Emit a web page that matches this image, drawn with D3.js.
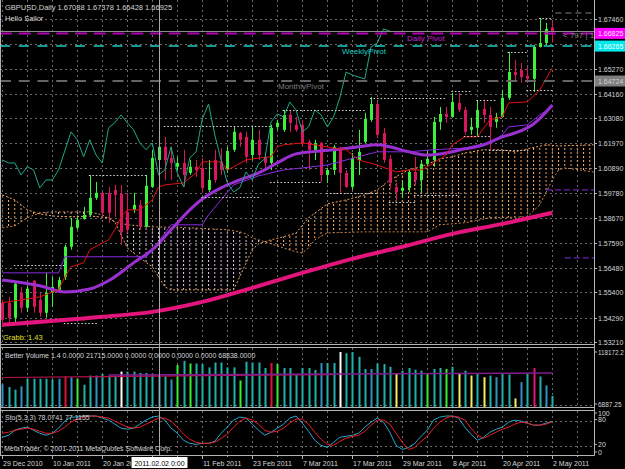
<!DOCTYPE html>
<html>
<head>
<meta charset="utf-8">
<title>GBPUSD,Daily</title>
<script src="https://cdn.jsdelivr.net/npm/d3@7/dist/d3.min.js"></script>
<style>
    body { margin: 0; background: #000; }
    svg { display: block; font-family: "Liberation Sans", Arial, sans-serif; }
</style>
</head>
<body>
<svg width="625" height="469"></svg>
<script>
// GBPUSD daily bars, 29 Dec 2010 .. 2 May 2011
var opens = [1.5494, 1.5494, 1.5428, 1.5538, 1.5472, 1.5591, 1.5507, 1.5450, 1.5538, 1.5551,
    1.5608, 1.5741, 1.5825, 1.5864, 1.5882, 1.5957, 1.5979, 1.5979, 1.5992, 1.5974,
    1.5895, 1.5904, 1.5926, 1.5829, 1.6005, 1.6124, 1.6182, 1.6133, 1.6094, 1.6111,
    1.6067, 1.6094, 1.6089, 1.5992, 1.6124, 1.6116, 1.6080, 1.6169, 1.6243, 1.6226,
    1.6146, 1.6213, 1.6138, 1.6111, 1.6270, 1.6257, 1.6323, 1.6279, 1.6279, 1.6204,
    1.6169, 1.6199, 1.6058, 1.6080, 1.6177, 1.6067, 1.6005, 1.6124, 1.6204, 1.6301,
    1.6371, 1.6243, 1.6129, 1.6005, 1.5988, 1.6001, 1.6071, 1.6036, 1.6107, 1.6124,
    1.6292, 1.6327, 1.6314, 1.6376, 1.6345, 1.6257, 1.6266, 1.6349, 1.6323, 1.6292,
    1.6314, 1.6398, 1.6512, 1.6521, 1.6495, 1.6482, 1.6623, 1.6640, 1.67088];
var highs = [1.5507, 1.5520, 1.5586, 1.5564, 1.5569, 1.5595, 1.5538, 1.5626, 1.5608, 1.5608,
    1.5750, 1.5869, 1.5873, 1.5917, 1.6058, 1.6027, 1.5983, 1.6005, 1.6014, 1.6014,
    1.5979, 1.5979, 1.5948, 1.6058, 1.6169, 1.6270, 1.6226, 1.6182, 1.6138, 1.6169,
    1.6124, 1.6124, 1.6133, 1.6124, 1.6169, 1.6177, 1.6182, 1.6270, 1.6248, 1.6248,
    1.6270, 1.6257, 1.6155, 1.6279, 1.6301, 1.6345, 1.6345, 1.6314, 1.6301, 1.6213,
    1.6213, 1.6204, 1.6089, 1.6191, 1.6182, 1.6080, 1.6155, 1.6257, 1.6332, 1.6402,
    1.6380, 1.6266, 1.6146, 1.6023, 1.6027, 1.6080, 1.6138, 1.6124, 1.6169, 1.6314,
    1.6358, 1.6358, 1.6420, 1.6420, 1.6358, 1.6310, 1.6389, 1.6389, 1.6358, 1.6332,
    1.6433, 1.6601, 1.6565, 1.6552, 1.6535, 1.6632, 1.6751, 1.6729, 1.67378];
var lows = [1.5406, 1.5406, 1.5406, 1.5450, 1.5454, 1.5450, 1.5432, 1.5428, 1.5476, 1.5538,
    1.5595, 1.5728, 1.5816, 1.5860, 1.5873, 1.5948, 1.5873, 1.5847, 1.5873, 1.5750,
    1.5802, 1.5891, 1.5816, 1.5825, 1.6001, 1.6111, 1.6036, 1.6036, 1.6080, 1.6005,
    1.6058, 1.6049, 1.5979, 1.5983, 1.6023, 1.6058, 1.6067, 1.6160, 1.6182, 1.6111,
    1.6124, 1.6124, 1.6080, 1.6080, 1.6257, 1.6248, 1.6248, 1.6248, 1.6182, 1.6080,
    1.6124, 1.6027, 1.6023, 1.6058, 1.5979, 1.6001, 1.5992, 1.6058, 1.6199, 1.6292,
    1.6221, 1.6111, 1.6001, 1.5948, 1.5957, 1.5983, 1.6014, 1.5979, 1.6094, 1.6094,
    1.6257, 1.6288, 1.6310, 1.6336, 1.6235, 1.6235, 1.6226, 1.6288, 1.6169, 1.6266,
    1.6310, 1.6389, 1.6468, 1.6464, 1.6464, 1.6424, 1.6620, 1.6632, 1.66428];
var closes = [1.5419, 1.5428, 1.5578, 1.5472, 1.5556, 1.5476, 1.5450, 1.5538, 1.5564, 1.5595,
    1.5741, 1.5829, 1.5860, 1.5882, 1.5957, 1.5979, 1.5891, 1.5891, 1.5970, 1.5807,
    1.5816, 1.5926, 1.5829, 1.6010, 1.6133, 1.6182, 1.6124, 1.6111, 1.6111, 1.6058,
    1.6094, 1.6080, 1.6001, 1.6036, 1.6036, 1.6080, 1.6164, 1.6248, 1.6213, 1.6138,
    1.6213, 1.6146, 1.6111, 1.6266, 1.6288, 1.6323, 1.6288, 1.6257, 1.6199, 1.6169,
    1.6199, 1.6058, 1.6080, 1.6182, 1.6067, 1.6005, 1.6133, 1.6160, 1.6305, 1.6371,
    1.6235, 1.6124, 1.6023, 1.5983, 1.6001, 1.6071, 1.6036, 1.6107, 1.6129, 1.6292,
    1.6327, 1.6314, 1.6380, 1.6345, 1.6248, 1.6270, 1.6345, 1.6323, 1.6270, 1.6314,
    1.6398, 1.6512, 1.6499, 1.6490, 1.6482, 1.6623, 1.6640, 1.6702, 1.66925];

// time axis (the label for 1 Feb sits under the crosshair date box)
var dateLabels = ["29 Dec 2010", "10 Jan 2011", "20 Jan 2011", "11 Feb 2011", "23 Feb 2011",
    "7 Mar 2011", "17 Mar 2011", "29 Mar 2011", "8 Apr 2011", "20 Apr 2011", "2 May 2011"];
var dateLabelBars = [0, 8, 16, 32, 40, 48, 56, 64, 72, 80, 88];
var crossBar = 25, crossLabel = "2011.02.02 0:00";

// price scale
var priceTicks = [1.6746, 1.6527, 1.6416, 1.6308, 1.6197, 1.6089, 1.5978, 1.5867, 1.5759, 1.5648, 1.5540, 1.5429, 1.5321];

// pivots
var pivotNames = ["Daily Pivot", "WeeklyPivot", "MonthlyPivot"];
var pivotLevels = [1.66825, 1.66265, 1.64724];

// moving averages, sampled along the curves
var maSlowBars = [0, 16, 24, 32, 40, 48, 56, 64, 72, 80, 88];
var maSlow = [1.5397, 1.5432, 1.5454, 1.5498, 1.5560, 1.5626, 1.5688, 1.5741, 1.5798, 1.5842, 1.5891];
var maFastBars = [0, 6, 10, 14, 17, 21, 24, 27, 30, 32, 35, 38, 41, 44, 47, 53, 57, 60, 62, 65, 68, 71, 74, 77, 80, 82, 85, 87, 88];
var maFast = [1.5595, 1.5569, 1.5542, 1.5555, 1.5591, 1.5670, 1.5728, 1.5816, 1.5904, 1.5952, 1.6001, 1.6036, 1.6067, 1.6111,
    1.6151, 1.6169, 1.6182, 1.6191, 1.6182, 1.6160, 1.6146, 1.6155, 1.6173, 1.6191, 1.6226, 1.6243, 1.6283, 1.6336, 1.6367];

// ichimoku lines
var tenkanBars = [0, 3, 6, 9, 10, 11, 13, 14, 17, 18, 19, 20, 22, 24, 25, 26, 29, 31, 32, 35, 36, 37, 39, 41, 43, 44, 45, 48,
    50, 53, 55, 57, 60, 63, 65, 67, 69, 71, 72, 74, 76, 78, 80, 81, 84, 86, 88];
var tenkan = [1.5494, 1.5507, 1.5520, 1.5551, 1.5608, 1.5653, 1.5670, 1.5728, 1.5772, 1.5816, 1.5873, 1.5904, 1.5904, 1.5948,
    1.6005, 1.6014, 1.6023, 1.6067, 1.6116, 1.6116, 1.6080, 1.6094, 1.6124, 1.6133, 1.6138, 1.6182, 1.6191, 1.6199, 1.6191,
    1.6177, 1.6169, 1.6124, 1.6102, 1.6071, 1.6080, 1.6080, 1.6111, 1.6146, 1.6191, 1.6226, 1.6226, 1.6301, 1.6314, 1.6376,
    1.6380, 1.6433, 1.6530];
var kijunBars = [0, 9, 10, 23, 24, 27, 32, 33, 35, 37, 41, 45, 48, 52, 55, 60, 65, 69, 74, 78, 80, 81, 84, 86, 88];
var kijun = [1.5626, 1.5626, 1.5697, 1.5697, 1.5728, 1.5838, 1.5838, 1.5882, 1.5948, 1.6014, 1.6054, 1.6080, 1.6089, 1.6102,
    1.6124, 1.6160, 1.6160, 1.6169, 1.6177, 1.6199, 1.6235, 1.6270, 1.6279, 1.6323, 1.6358];
var spanABars = [0, 2, 4, 6, 8, 11, 14, 17, 18, 19, 20, 22, 24, 25, 26, 27, 30, 34, 37, 40, 41, 43, 45, 47, 49, 52, 55, 58,
    60, 62, 65, 67, 70, 72, 74, 77, 80, 82, 84, 87, 89, 94.6];
var spanA = [1.5970, 1.5948, 1.5904, 1.5886, 1.5877, 1.5873, 1.5877, 1.5869, 1.5851, 1.5794, 1.5736, 1.5692, 1.5653, 1.5608,
    1.5564, 1.5551, 1.5551, 1.5551, 1.5551, 1.5728, 1.5754, 1.5772, 1.5785, 1.5802, 1.5869, 1.5930, 1.5948, 1.5970, 1.5992,
    1.6036, 1.6080, 1.6094, 1.6129, 1.6138, 1.6155, 1.6169, 1.6169, 1.6160, 1.6173, 1.6191, 1.6186, 1.6191];
var spanBBars = [0, 2, 4, 6, 8, 11, 14, 16, 18, 20, 24, 30, 36, 38, 39, 40, 41, 43, 45, 47, 48, 49, 50, 52, 58, 68, 70, 74,
    78, 84, 86, 88, 89, 90, 94.6];
var spanB = [1.5825, 1.5833, 1.5869, 1.5891, 1.5895, 1.5895, 1.5895, 1.5882, 1.5851, 1.5838, 1.5829, 1.5825, 1.5816, 1.5807,
    1.5798, 1.5780, 1.5772, 1.5754, 1.5736, 1.5719, 1.5714, 1.5736, 1.5772, 1.5802, 1.5807, 1.5807, 1.5838, 1.5847, 1.5869,
    1.5873, 1.5926, 1.6036, 1.6080, 1.6089, 1.6071];
var chikouShift = 26;

// white dotted fractal levels: [from bar, to bar, price]
var fractalLevels = [[2, 10, 1.5661], [10, 15, 1.5406], [14, 23, 1.6058], [26, 43, 1.6274], [32, 41, 1.5961],
    [45, 58, 1.6345], [43, 51, 1.6027], [52, 60, 1.5979], [59, 71, 1.6398], [62, 66, 1.5939], [66, 73, 1.5970],
    [72, 75, 1.6429], [74, 78, 1.6230], [76, 79, 1.6389], [78, 84, 1.6169], [81, 84, 1.6601], [84, 88, 1.6433],
    [86, 88, 1.6751]];
var rightStubs = [[87, 95, 1.5992], [90, 95, 1.5692]];
var upperStub = [88.5, 95, 1.6773];

// Better Volume 1.4
var volumes = [50300, 45200, 40300, 46500, 61000, 61000, 61000, 61000, 59700, 61000,
    65400, 64000, 61000, 49700, 67200, 67200, 70500, 67200, 65400, 74800,
    74800, 74800, 72300, 72300, 70500, 68600, 65900, 59700, 87400, 95500,
    90400, 90400, 89300, 82900, 92300, 92300, 82900, 82900, 57800, 93700,
    92300, 92300, 81800, 91200, 89300, 81800, 81800, 68600, 81800, 81800,
    78000, 91200, 91200, 91200, 112500, 110100, 112500, 103100, 79900, 79900,
    90400, 89300, 84200, 70500, 76700, 81800, 78600, 76700, 70500, 79900,
    81800, 79900, 84200, 70500, 76700, 67200, 70500, 64000, 67200, 64000,
    70500, 69100, 23300, 54600, 70500, 81800, 65400, 48400, 28200];
// t/b normal, g churn, r climax high, w climax low, y low volume, m climax churn
var volClass = ("bttbtttttb" + "rbgttbtttw" + "tttttbtbgt" + "gtttttttgt" + "tttrgttttt" +
    "tbttwttttb" + "tttyttttgt" + "tgtytytytb" + "ttybtmtbt").split("");
var volMaBars = [0, 16, 53];
var volMa = [63470, 65350, 69130];
var volMa2Bars = [17, 53, 88];
var volMa2 = [68180, 70070, 71950];
var volScaleLabels = ["118172.2", "6887.25"];

// Stochastic (5,3,3)
var stochMain = [41.2, 45.9, 57.6, 62.4, 64.7, 57.6, 50.6, 45.9, 50.6, 62.4,
    78.8, 88.2, 88.2, 90.6, 90.6, 90.6, 85.9, 81.2, 71.8, 62.4,
    60.0, 62.4, 71.8, 81.2, 88.2, 90.6, 81.2, 62.4, 50.6, 34.1,
    27.1, 24.7, 27.1, 27.1, 31.8, 50.6, 64.7, 81.2, 88.2, 85.9,
    71.8, 57.6, 45.9, 52.9, 62.4, 71.8, 85.9, 90.6, 74.1, 55.3,
    34.1, 22.4, 17.6, 29.4, 41.2, 43.5, 45.9, 50.6, 64.7, 76.5,
    85.9, 76.5, 52.9, 22.4, 12.9, 17.6, 27.1, 43.5, 57.6, 81.2,
    88.2, 90.6, 90.6, 85.9, 64.7, 48.2, 34.1, 41.2, 52.9, 60.0,
    64.7, 76.5, 81.2, 78.8, 74.1, 69.4, 69.4, 74.1, 78.1];
var stochSignal = [50.6, 52.9, 57.6, 60.0, 62.4, 60.0, 55.3, 50.6, 50.6, 55.3,
    64.7, 76.5, 83.5, 88.2, 90.6, 90.6, 88.2, 85.9, 78.8, 71.8,
    64.7, 62.4, 64.7, 71.8, 78.8, 85.9, 85.9, 78.8, 64.7, 48.2,
    36.5, 29.4, 27.1, 27.1, 29.4, 38.8, 48.2, 64.7, 78.8, 85.9,
    81.2, 71.8, 57.6, 52.9, 55.3, 62.4, 74.1, 83.5, 83.5, 71.8,
    52.9, 36.5, 24.7, 22.4, 31.8, 38.8, 43.5, 45.9, 55.3, 69.4,
    81.2, 81.2, 71.8, 50.6, 29.4, 12.9, 17.6, 31.8, 43.5, 62.4,
    76.5, 85.9, 90.6, 88.2, 81.2, 62.4, 45.9, 38.8, 45.9, 52.9,
    60.0, 64.7, 71.8, 76.5, 74.1, 69.4, 69.4, 71.8, 77.1];
var stochTitle = "Sto(5,3,3) 78.0741 77.1155";

var colors = {
    bull: "#3cf03c", bear: "#d8175f", grid: "#6a6a6a", frame: "#b4b4b4", text: "#d6d6d6",
    maSlow: "#e3157c", maFast: "#9b30d0", tenkan: "#e01010", kijun: "#8a2be2", chikou: "#20a888",
    spanA: "#f4a460", spanB: "#d8bfd8", daily: "#b000b4", weekly: "#1ecbc0", monthly: "#646464",
    vol: { t: "#20b2aa", b: "#2f93c4", g: "#33ee33", r: "#dc143c", w: "#ffffff", y: "#f2ec5a", m: "#e0147a" }
};

var svg = d3.select("svg"),
    width = +svg.attr("width"),
    height = +svg.attr("height");

var axisX = 594,
    mainBottom = 344,
    volTop = 348, volBottom = 407,
    stoTop = 411, stoBottom = 455;

var x = d3.scaleLinear().domain([0, 88]).range([2.3, 552.3]);
var yMain = d3.scaleLinear().domain([1.5321, 1.6746]).range([342, 19]);
var yVol = d3.scaleLinear().domain([6887.25, 118172.2]).range([volBottom, 349]);
var ySto = d3.scaleLinear().domain([0, 100]).range([stoBottom, 412]);

svg.append("rect").attr("width", width).attr("height", height).attr("fill", "#000");
var defs = svg.append("defs");

function add_clip(id, x0, y0, w, h) {
    defs.append("clipPath").attr("id", id)
        .append("rect").attr("x", x0).attr("y", y0).attr("width", w).attr("height", h);
}

function add_hatch(id, color) {
    var p = defs.append("pattern").attr("id", id)
        .attr("patternUnits", "userSpaceOnUse")
        .attr("x", 1.8).attr("y", 0)
        .attr("width", 6.25).attr("height", 4);
    p.append("rect").attr("width", 1).attr("height", 2).attr("fill", color);
}

function draw_grid(g, top, bottom, levels) {
    var xs = d3.range(0, 96, 4).map(function (b) { return Math.round(x(b)) + 0.5; });
    g.append("g").selectAll("line").data(xs).enter().append("line")
        .attr("x1", function (d) { return d; }).attr("x2", function (d) { return d; })
        .attr("y1", top).attr("y2", bottom)
        .attr("stroke", colors.grid).attr("stroke-dasharray", "2,3");
    g.append("g").selectAll("line").data(levels).enter().append("line")
        .attr("x1", 0).attr("x2", axisX)
        .attr("y1", function (d) { return Math.round(d) + 0.5; })
        .attr("y2", function (d) { return Math.round(d) + 0.5; })
        .attr("stroke", colors.grid).attr("stroke-dasharray", "2,3");
}

function pts(bars, values, yscale) {
    return values.map(function (v, i) { return [x(bars[i]), yscale(v)]; });
}

function draw_cloud(g) {
    var a = pts(spanABars, spanA, yMain),
        b = pts(spanBBars, spanB, yMain),
        line = d3.line();
    var x0 = a[0][0], x1 = a[a.length - 1][0];
    defs.append("clipPath").attr("id", "belowA").append("path")
        .attr("d", line(a.concat([[x1, mainBottom], [x0, mainBottom]])) + "Z");
    defs.append("clipPath").attr("id", "aboveA").append("path")
        .attr("d", line(a.concat([[x1, 0], [x0, 0]])) + "Z");
    var band = line(a.concat(b.slice().reverse())) + "Z";
    g.append("path").attr("d", band).attr("fill", "url(#hatchUp)").attr("clip-path", "url(#belowA)");
    g.append("path").attr("d", band).attr("fill", "url(#hatchDown)").attr("clip-path", "url(#aboveA)");
    g.append("path").attr("d", line(a)).attr("fill", "none")
        .attr("stroke", colors.spanA).attr("stroke-dasharray", "2,2");
    g.append("path").attr("d", line(b)).attr("fill", "none")
        .attr("stroke", colors.spanA).attr("stroke-opacity", 0.8).attr("stroke-dasharray", "2,2");
}

function draw_candles(g) {
    var bars = opens.map(function (o, i) {
        return { i: i, o: o, h: highs[i], l: lows[i], c: closes[i] };
    });
    var c = g.append("g").selectAll("g").data(bars).enter().append("g")
        .attr("fill", function (d) { return d.c >= d.o ? colors.bull : colors.bear; })
        .attr("stroke", function (d) { return d.c >= d.o ? colors.bull : colors.bear; });
    c.append("line")
        .attr("x1", function (d) { return Math.round(x(d.i)) + 0.5; })
        .attr("x2", function (d) { return Math.round(x(d.i)) + 0.5; })
        .attr("y1", function (d) { return yMain(d.h); })
        .attr("y2", function (d) { return yMain(d.l); });
    c.append("rect")
        .attr("stroke", "none")
        .attr("x", function (d) { return Math.round(x(d.i)) - 1; })
        .attr("width", 3)
        .attr("y", function (d) { return yMain(Math.max(d.o, d.c)); })
        .attr("height", function (d) { return Math.max(1, Math.abs(yMain(d.o) - yMain(d.c))); });
}

function draw_lines(g) {
    var line = d3.line();
    var smooth = d3.line().curve(d3.curveMonotoneX);
    g.append("path").attr("d", smooth(pts(maSlowBars, maSlow, yMain)))
        .attr("fill", "none").attr("stroke", colors.maSlow).attr("stroke-width", 4);
    g.append("path").attr("d", smooth(pts(maFastBars, maFast, yMain)))
        .attr("fill", "none").attr("stroke", colors.maFast).attr("stroke-width", 3);
    g.append("path").attr("d", line(pts(kijunBars, kijun, yMain)))
        .attr("fill", "none").attr("stroke", colors.kijun);
    g.append("path").attr("d", line(pts(tenkanBars, tenkan, yMain)))
        .attr("fill", "none").attr("stroke", colors.tenkan);
    // chikou span: the closes plotted 26 bars back
    var chikou = closes.slice(chikouShift);
    g.append("path").attr("d", line(pts(d3.range(chikou.length), chikou, yMain)))
        .attr("fill", "none").attr("stroke", colors.chikou);
}

function draw_levels(g) {
    g.append("g").selectAll("line").data(fractalLevels).enter().append("line")
        .attr("x1", function (d) { return x(d[0]) - 1; })
        .attr("x2", function (d) { return x(d[1]) + 1; })
        .attr("y1", function (d) { return Math.round(yMain(d[2])) + 0.5; })
        .attr("y2", function (d) { return Math.round(yMain(d[2])) + 0.5; })
        .attr("stroke", "#d8d8d8").attr("stroke-width", 1).attr("stroke-dasharray", "1.5,2");
    g.append("g").selectAll("line").data(rightStubs).enter().append("line")
        .attr("x1", function (d) { return x(d[0]); }).attr("x2", function (d) { return x(d[1]); })
        .attr("y1", function (d) { return yMain(d[2]); }).attr("y2", function (d) { return yMain(d[2]); })
        .attr("stroke", colors.kijun).attr("stroke-dasharray", "6,3");
    g.append("line")
        .attr("x1", x(upperStub[0])).attr("x2", x(upperStub[1]))
        .attr("y1", yMain(upperStub[2])).attr("y2", yMain(upperStub[2]))
        .attr("stroke", "#555").attr("stroke-width", 1.5).attr("stroke-dasharray", "6,4");

    // horizontal crosshair
    g.append("line").attr("x1", 0).attr("x2", axisX).attr("y1", 31.5).attr("y2", 31.5)
        .attr("stroke", "#8c8c8c");

    var styles = [
        { color: colors.daily, w: 2, dash: "12,6.75", tx: 407 },
        { color: colors.weekly, w: 1.5, dash: "10,8.75", tx: 342 },
        { color: colors.monthly, w: 2, dash: "11,7.75", tx: 278 }
    ];
    pivotLevels.forEach(function (p, i) {
        var y = yMain(p), s = styles[i];
        g.append("line").attr("x1", 0).attr("x2", axisX).attr("y1", y).attr("y2", y)
            .attr("stroke", s.color).attr("stroke-width", s.w).attr("stroke-dasharray", s.dash);
        g.append("text").attr("x", s.tx).attr("y", y + 7.5)
            .attr("font-size", 8).attr("fill", i == 2 ? "#7c7c7c" : (i == 0 ? "#c020d0" : s.color))
            .text(pivotNames[i]);
    });
    g.append("text").attr("x", 563).attr("y", 38).attr("font-size", 8).attr("fill", "#8a8a8a")
        .text("< 797 | 13");
}

function draw_volume(g) {
    g.append("g").selectAll("rect").data(volumes).enter().append("rect")
        .attr("x", function (d, i) { return Math.round(x(i)) - 0.5; })
        .attr("width", 2)
        .attr("y", function (d) { return yVol(d); })
        .attr("height", function (d) { return volBottom - yVol(d); })
        .attr("fill", function (d, i) { return colors.vol[volClass[i]]; });
    var line = d3.line();
    g.append("path").attr("d", line(pts(volMaBars, volMa, yVol)))
        .attr("fill", "none").attr("stroke", "#b8124e").attr("stroke-width", 1.2);
    g.append("path").attr("d", line(pts(volMa2Bars, volMa2, yVol)))
        .attr("fill", "none").attr("stroke", "#7e1d8e").attr("stroke-width", 1.5);
}

function draw_stoch(g) {
    var line = d3.line();
    var bars = d3.range(stochMain.length);
    g.append("path").attr("d", line(pts(bars, stochMain, ySto)))
        .attr("fill", "none").attr("stroke", "#2aa6cc");
    g.append("path").attr("d", line(pts(bars, stochSignal, ySto)))
        .attr("fill", "none").attr("stroke", "#ec1c24");
}

function draw_frames() {
    var f = svg.append("g").attr("stroke", colors.frame).attr("fill", "none");
    [mainBottom + 0.5, volTop - 0.5, volBottom + 0.5, stoTop - 0.5].forEach(function (y) {
        f.append("line").attr("x1", 0).attr("x2", axisX).attr("y1", y).attr("y2", y);
    });
    f.append("line").attr("x1", 0).attr("x2", axisX + 0.5).attr("y1", stoBottom + 0.5).attr("y2", stoBottom + 0.5);
    f.append("line").attr("x1", axisX + 0.5).attr("x2", axisX + 0.5).attr("y1", 0).attr("y2", stoBottom + 0.5);
    f.append("line").attr("x1", 0.5).attr("x2", 0.5).attr("y1", 0).attr("y2", stoBottom);
    // vertical crosshair
    svg.append("line").attr("x1", Math.round(x(crossBar)) + 0.5).attr("x2", Math.round(x(crossBar)) + 0.5)
        .attr("y1", 0).attr("y2", stoBottom).attr("stroke", "#a8a8a8");
}

function right_label(y, text, bg, fg, size) {
    svg.append("line").attr("x1", axisX).attr("x2", axisX + 3).attr("y1", y).attr("y2", y)
        .attr("stroke", colors.frame);
    if (bg) {
        svg.append("rect").attr("x", axisX + 1).attr("y", y - 5.5).attr("width", 31).attr("height", 11).attr("fill", bg);
    }
    svg.append("text").attr("x", axisX + 4).attr("y", y + 2.5)
        .attr("font-size", size || 7).attr("fill", fg || colors.text).text(text);
}

function draw_axes() {
    priceTicks.forEach(function (p) {
        right_label(Math.round(yMain(p)) + 0.5, p.toFixed(5));
    });
    right_label(yMain(pivotLevels[0]), pivotLevels[0].toFixed(5), "#ff00ff", "#ffe8ff");
    right_label(yMain(pivotLevels[1]), pivotLevels[1].toFixed(5), "#00e8ea", "#ffffff");
    right_label(yMain(pivotLevels[2]), pivotLevels[2].toFixed(5), "#7e7e7e", "#d2d2d2");

    right_label(352, volScaleLabels[0], null, null, 6.3);
    right_label(404, volScaleLabels[1], null, null, 6.5);
    right_label(ySto(100) + 1, "100");
    right_label(ySto(80) - 1, "80");
    right_label(ySto(20) - 2, "20");
    right_label(ySto(0) - 3, "0");

    // time axis
    defs.append("clipPath").attr("id", "clipDates")
        .append("rect").attr("x", 0).attr("y", 455).attr("width", Math.round(x(crossBar)) - 28).attr("height", 14);
    var g = svg.append("g");
    g.selectAll("line").data(d3.range(0, 96, 4)).enter().append("line")
        .attr("x1", function (d) { return Math.round(x(d)) + 0.5; })
        .attr("x2", function (d) { return Math.round(x(d)) + 0.5; })
        .attr("y1", stoBottom).attr("y2", function (d) { return d % 8 == 0 ? stoBottom + 4 : stoBottom + 2; })
        .attr("stroke", colors.frame);
    g.selectAll("text").data(dateLabels).enter().append("text")
        .attr("x", function (d, i) { return Math.round(x(dateLabelBars[i])) + 1; })
        .attr("y", 465.5)
        .attr("font-size", 7).attr("fill", colors.text)
        .attr("clip-path", function (d, i) { return dateLabelBars[i] < crossBar ? "url(#clipDates)" : null; })
        .text(function (d) { return d; });
    var cx = Math.round(x(crossBar)) + 0.5;
    g.append("rect").attr("x", cx - 28).attr("y", 457).attr("width", 56).attr("height", 11).attr("fill", "#fff");
    g.append("text").attr("x", cx).attr("y", 465.5).attr("text-anchor", "middle")
        .attr("font-size", 7).attr("fill", "#000").text(crossLabel);
}

function draw_titles() {
    var t = svg.append("g").attr("font-size", 7.5).attr("fill", colors.text);
    t.append("text").attr("x", 5).attr("y", 9.5)
        .text("GBPUSD,Daily  " + [opens[88], highs[88], lows[88], closes[88]].map(function (v) { return v.toFixed(5); }).join(" "));
    t.append("text").attr("x", 5).attr("y", 20.5).text("Hello Sailor");
    t.append("text").attr("x", 3).attr("y", 340).attr("fill", "#e4e020").text("Grabb: 1.43");
    t.append("text").attr("x", 5).attr("y", 357.5).attr("font-size", 7)
        .text("Better Volume 1.4 0.0000 21715.0000 0.0000 0.0000 0.0000 0.0000 68838.0000");
    t.append("text").attr("x", 5).attr("y", 420).attr("font-size", 7).text(stochTitle);
    t.append("text").attr("x", 4).attr("y", 450.5).attr("font-size", 7)
        .text("MetaTrader, \u00a9 2001-2011 MetaQuotes Software Corp.");
}

add_clip("clipMain", 0, 0, axisX, mainBottom);
add_clip("clipVol", 0, volTop, axisX, volBottom - volTop);
add_clip("clipSto", 0, stoTop, axisX, stoBottom - stoTop);
add_hatch("hatchUp", colors.spanA);
add_hatch("hatchDown", colors.spanB);

var gMain = svg.append("g").attr("clip-path", "url(#clipMain)");
var gVol = svg.append("g").attr("clip-path", "url(#clipVol)");
var gSto = svg.append("g").attr("clip-path", "url(#clipSto)");

draw_grid(gMain, 0, mainBottom, priceTicks.concat([1.6637]).map(yMain));
draw_grid(gVol, volTop, volBottom, [405]);
draw_grid(gSto, stoTop, stoBottom, [ySto(80), ySto(20)]);
draw_cloud(gMain);
draw_candles(gMain);
draw_lines(gMain);
draw_levels(gMain);
draw_volume(gVol);
draw_stoch(gSto);
draw_frames();
draw_axes();
draw_titles();
</script>
</body>
</html>
